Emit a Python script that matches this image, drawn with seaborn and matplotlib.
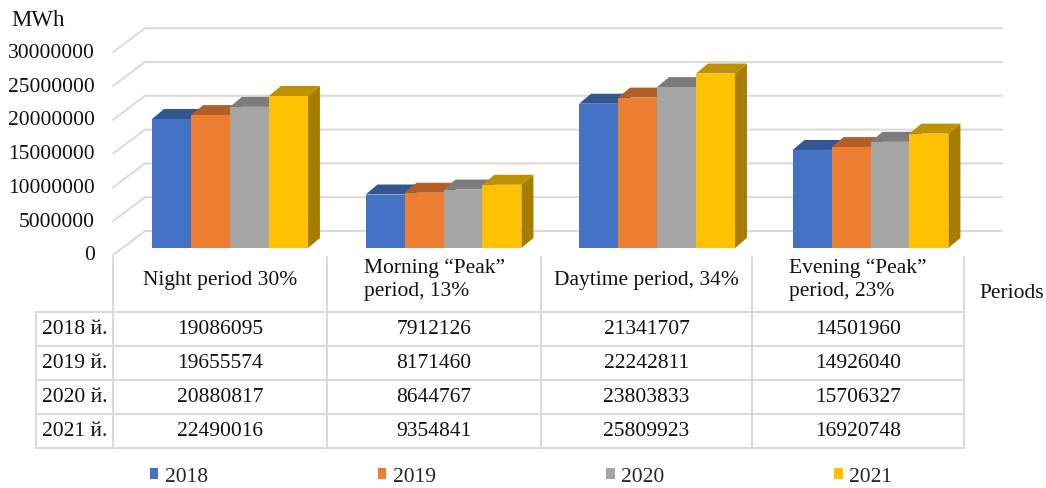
import matplotlib
matplotlib.use("Agg")
import matplotlib.pyplot as plt
import numpy as np
import pandas as pd
import seaborn as sns
from matplotlib.patches import Polygon

# ---------------- data ----------------
periods = ["Night period 30%", "Morning \u201cPeak\u201d\nperiod, 13%",
           "Daytime period, 34%", "Evening \u201cPeak\u201d\nperiod, 23%"]
years = ["2018", "2019", "2020", "2021"]
v2018 = [19086095, 7912126, 21341707, 14501960]
v2019 = [19655574, 8171460, 22242811, 14926040]
v2020 = [20880817, 8644767, 23803833, 15706327]
v2021 = [22490016, 9354841, 25809923, 16920748]
yticks = [0, 5000000, 10000000, 15000000, 20000000, 25000000, 30000000]
y_unit = "MWh"
x_title = "Periods"
row_suffix = " \u0439."

series = [v2018, v2019, v2020, v2021]
colors = ["#4472C4", "#ED7D31", "#A5A5A5", "#FFC000"]

df = pd.DataFrame({
    "period": periods * len(years),
    "year": [y for y in years for _ in periods],
    "value": [v for s in series for v in s],
})

# ---------------- style ----------------
W, H = 1046, 488
sns.set_theme(style="white")
plt.rcParams["font.family"] = ["Liberation Serif", "DejaVu Serif"]
FS = 15.5
GRID = "#D9D9D9"
TXT = "#111111"

fig = plt.figure(figsize=(W / 100, H / 100), dpi=100)
pix = fig.add_axes([0, 0, 1, 1], zorder=0)
pix.set_xlim(0, W)
pix.set_ylim(H, 0)
pix.axis("off")

AX_L, AX_R, AX_T, AX_B = 100, 1000, 20, 248
PX_PER_M = 6.76
CENTER0, PITCH = 230, 213.5
ax = fig.add_axes([AX_L / W, (H - AX_B) / H, (AX_R - AX_L) / W, (AX_B - AX_T) / H], zorder=1)
ax.patch.set_alpha(0)

sns.barplot(data=df, x="period", y="value", hue="year", palette=colors,
            width=0.73, saturation=1, ax=ax, linewidth=0, edgecolor="none",
            errorbar=None)

ax.set_xlim((AX_L - CENTER0) / PITCH, (AX_R - CENTER0) / PITCH)
ax.set_ylim(0, (AX_B - AX_T) / PX_PER_M * 1e6)
for s in ax.spines.values():
    s.set_visible(False)
ax.set_xticks([])
ax.set_yticks([])
ax.set_xlabel("")
ax.set_ylabel("")

handles, labels = ax.get_legend_handles_labels()
if ax.get_legend() is not None:
    ax.get_legend().remove()


def to_pix(x, y):
    d = ax.transData.transform((x, y))
    return d[0], H - d[1]


# ---------------- back wall / gridlines + y labels ----------------
x0_data = ax.get_xlim()[0]
for v in yticks:
    _, by = to_pix(x0_data, v)
    fy, wy = by + 7, by - 17
    pix.plot([113, 145, 1002], [fy, wy, wy], color=GRID, lw=1.4, zorder=1,
             solid_joinstyle="miter")
    pix.text(95, fy + 1, str(v), ha="right", va="center", fontsize=FS, color=TXT)

pix.text(11, 21, y_unit, ha="left", va="center", fontsize=16.5, color=TXT)

# ---------------- 3D faces (tops & sides) ----------------
DX, DY = 12, -10
bars = sorted([p for p in ax.patches if p.get_height() > 0], key=lambda p: p.get_x())


def shade(c, f):
    r, g, b = matplotlib.colors.to_rgb(c)
    return (r * f, g * f, b * f)


for p in bars:
    x0 = p.get_x(); w = p.get_width(); h = p.get_height()
    fc = p.get_facecolor()
    px0, py0 = to_pix(x0, 0)
    px1, pyh = to_pix(x0 + w, h)
    side = Polygon([(px1, py0), (px1, pyh), (px1 + DX, pyh + DY), (px1 + DX, py0 + DY)],
                   closed=True, facecolor=shade(fc, 0.65), edgecolor="none",
                   transform=pix.transData, clip_on=False, zorder=0.5)
    top = Polygon([(px0, pyh), (px1, pyh), (px1 + DX, pyh + DY), (px0 + DX, pyh + DY)],
                  closed=True, facecolor=shade(fc, 0.75), edgecolor="none",
                  transform=pix.transData, clip_on=False, zorder=0.5)
    ax.add_patch(side)
    ax.add_patch(top)

# ---------------- data table ----------------
col_x = [113, 327, 541, 752, 964]
row_y = [312, 346, 380, 414, 448]
for x in col_x:
    pix.plot([x, x], [257, 448], color=GRID, lw=1.4, zorder=1)
pix.plot([36, 36], [312, 448], color=GRID, lw=1.4, zorder=1)
for y in row_y:
    pix.plot([36, 964], [y, y], color=GRID, lw=1.4, zorder=1)

for c, name in enumerate(periods):
    cx = (col_x[c] + col_x[c + 1]) / 2
    pix.text(cx, 280, name, ha="center", va="center", fontsize=FS, color=TXT,
             linespacing=1.3, multialignment="left")

for r, yr in enumerate(years):
    cy = (row_y[r] + row_y[r + 1]) / 2
    pix.text(74.5, cy, yr + row_suffix, ha="center", va="center", fontsize=FS, color=TXT)
    for c in range(len(periods)):
        cx = (col_x[c] + col_x[c + 1]) / 2
        pix.text(cx, cy, str(series[r][c]), ha="center", va="center", fontsize=FS, color=TXT)

pix.text(979, 294, x_title, ha="left", va="center", fontsize=FS, color=TXT)

# ---------------- legend ----------------
fig.legend(handles, labels, loc="center", bbox_to_anchor=(521 / W, 1 - 477 / H),
           ncol=4, frameon=False, handlelength=0.4, handleheight=0.4,
           handletextpad=0.3, columnspacing=7.9, fontsize=FS, borderaxespad=0)

fig.savefig("out.png", dpi=100)
